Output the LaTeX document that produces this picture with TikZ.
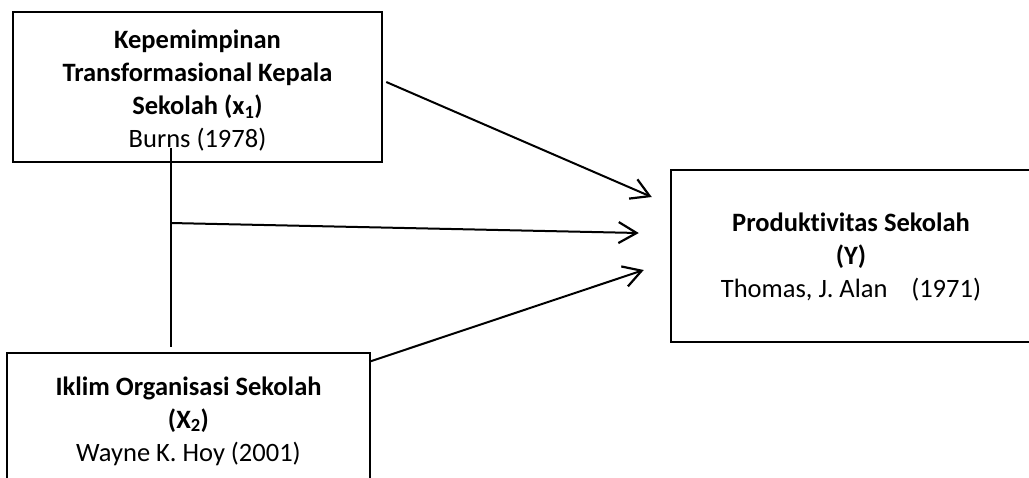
\documentclass[tikz,border=0pt]{standalone}
\usepackage{fontspec}
\setmainfont[Ligatures=NoCommon]{Carlito}
\usetikzlibrary{arrows.meta}
\tikzset{
  varbox/.style={draw, line width=2.5pt, rectangle, inner sep=0pt},
  vartext/.style={align=center, inner sep=0pt, font=\fontsize{26.5}{33}\selectfont},
  conn/.style={line width=2pt},
  arr/.style={conn, -{Straight Barb[length=18pt, width=21pt, line width=2.2pt]}}
}
\begin{document}
\begin{tikzpicture}[x=1pt, y=-1pt]
\path[use as bounding box] (0,0) rectangle (1029,477);
\clip (0,0) rectangle (1029,477);
\fill[white] (0,0) rectangle (1029,477);

\node[varbox, minimum width=369pt, minimum height=150pt] (X1) at (197.5,87) {};
\node[vartext] (X1t) at ([yshift=-4pt]X1.center)
  {\textbf{Kepemimpinan}\\ \textbf{Transformasional Kepala}\\ \textbf{Sekolah (x\textsubscript{1})}\\ Burns (1978)};
\node[varbox, minimum width=363pt, minimum height=134pt] (X2) at (188.5,420) {};
\node[vartext] (X2t) at ([yshift=-1pt]X2.center)
  {\textbf{Iklim Organisasi Sekolah}\\ \textbf{(X\textsubscript{2})}\\ Wayne K. Hoy (2001)};
\node[varbox, minimum width=360pt, minimum height=172pt] (Y) at (851,256) {};
\node[vartext] (Yt) at ([yshift=-1pt]Y.center)
  {\textbf{Produktivitas Sekolah}\\ \textbf{(Y)}\\ Thomas, J. Alan\hspace{0.9em}(1971)};

\coordinate (vt) at (170.5,148);
\coordinate (vm) at (170.5,223);
\coordinate (vb) at (170.5,347);

\draw[conn] (vt) -- (vb);
\draw[arr] ([shift={(3,-5)}]X1.east) -- ([shift={(-18,-59)}]Y.west);
\draw[arr] (vm) -- ([shift={(-31,-23)}]Y.west);
\draw[arr] ([shift={(-2,10)}]X2.north east) -- ([shift={(-26,14)}]Y.west);
\end{tikzpicture}
\end{document}
